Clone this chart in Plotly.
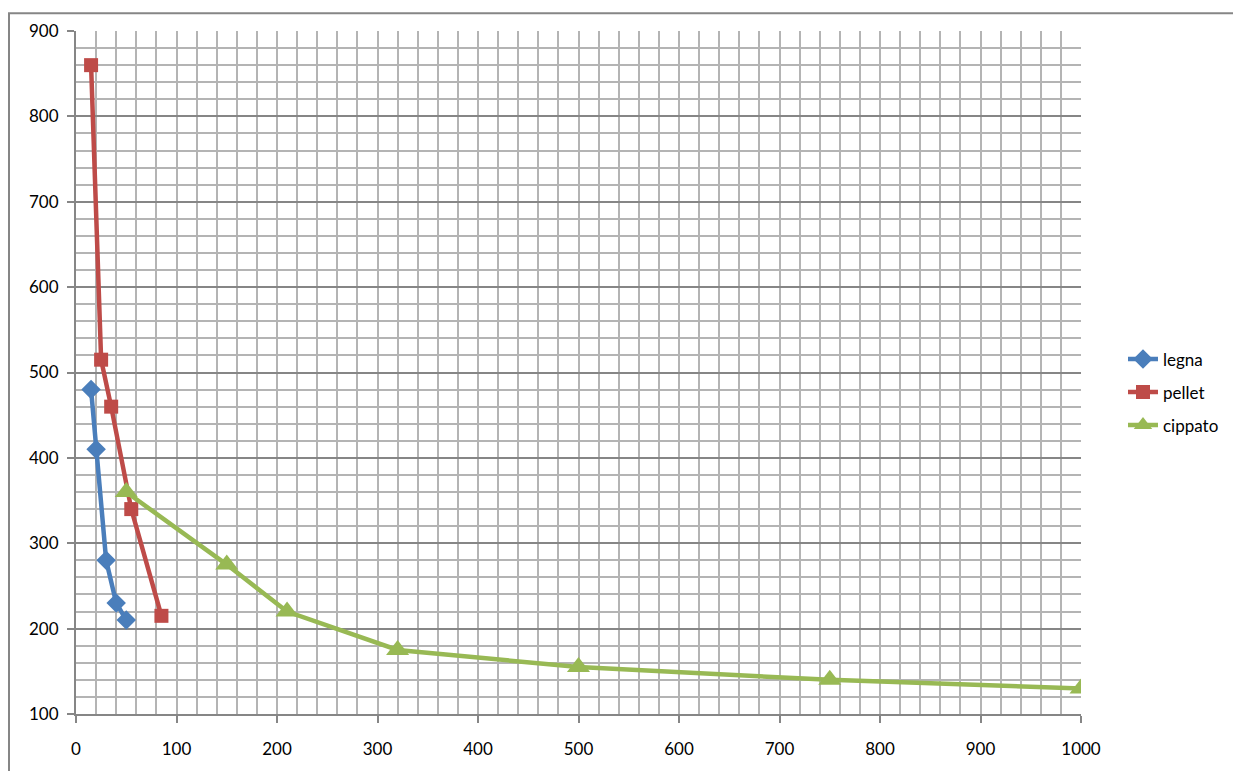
import plotly.graph_objects as go

legna_x = [15, 20, 30, 40, 50]
legna_y = [480, 410, 280, 230, 210]
pellet_x = [15, 25, 35, 55, 85]
pellet_y = [860, 515, 460, 340, 215]
cippato_x = [50, 150, 210, 320, 500, 750, 1000]
cippato_y = [360, 275, 220, 175, 155, 140, 130]

FONT = "Lato"
OFF = 8  # browser body margin
W, H = 1241 - OFF, 771 - OFF
L, T = 76 - OFF, 28 - OFF
pw, ph = 1005, 688
R, B = W - L - pw, H - T - ph

fig = go.Figure()
fig.add_trace(go.Scatter(x=legna_x, y=legna_y, name="legna", mode="lines+markers",
                         legendgroup="a",
                         line=dict(color="#4A7EBB", width=4.5),
                         marker=dict(symbol="diamond", size=15, color="#4A7EBB")))
fig.add_trace(go.Scatter(x=pellet_x, y=pellet_y, name="pellet", mode="lines+markers",
                         legendgroup="b",
                         line=dict(color="#BE4B48", width=4.5),
                         marker=dict(symbol="square", size=14, color="#BE4B48")))
fig.add_trace(go.Scatter(x=cippato_x, y=cippato_y, name="cippato", mode="lines+markers",
                         legendgroup="c",
                         line=dict(color="#98B954", width=4.5),
                         marker=dict(symbol="triangle-up", size=20, color="#98B954")))

fig.update_layout(
    width=W, height=H,
    margin=dict(l=L, r=R, t=T, b=B),
    paper_bgcolor="white", plot_bgcolor="white",
    font=dict(family=FONT, size=17, color="black"),
    showlegend=True,
    legend=dict(x=(1123 - 76) / pw, y=(716 - 392) / ph, xanchor="left", yanchor="middle",
                bgcolor="rgba(0,0,0,0)", font=dict(size=17), itemwidth=30,
                tracegroupgap=8),
    xaxis=dict(range=[0, 1000], dtick=100, tick0=0,
               showgrid=True, gridcolor="#B4B4B4", gridwidth=2,
               minor=dict(dtick=20, showgrid=True, gridcolor="#B4B4B4", gridwidth=2),
               showline=True, linecolor="#868686", linewidth=2,
               ticks="outside", ticklen=7, tickwidth=2, tickcolor="#868686",
               ticklabelstandoff=12, zeroline=False, fixedrange=True),
    yaxis=dict(range=[100, 900], dtick=100, tick0=100,
               showgrid=True, gridcolor="#868686", gridwidth=2,
               minor=dict(dtick=20, showgrid=True, gridcolor="#B4B4B4", gridwidth=2),
               showline=True, linecolor="#868686", linewidth=2,
               ticks="outside", ticklen=7, tickwidth=2, tickcolor="#868686",
               ticklabelstandoff=5, zeroline=False, fixedrange=True),
    shapes=[dict(type="rect", xref="paper", yref="paper",
                 x0=(9 - 76) / pw, x1=(1260 - 76) / pw,
                 y0=(716 - 790) / ph, y1=(716 - 10) / ph,
                 line=dict(color="#868686", width=2), layer="below")],
)

fig.write_html("out.html")
